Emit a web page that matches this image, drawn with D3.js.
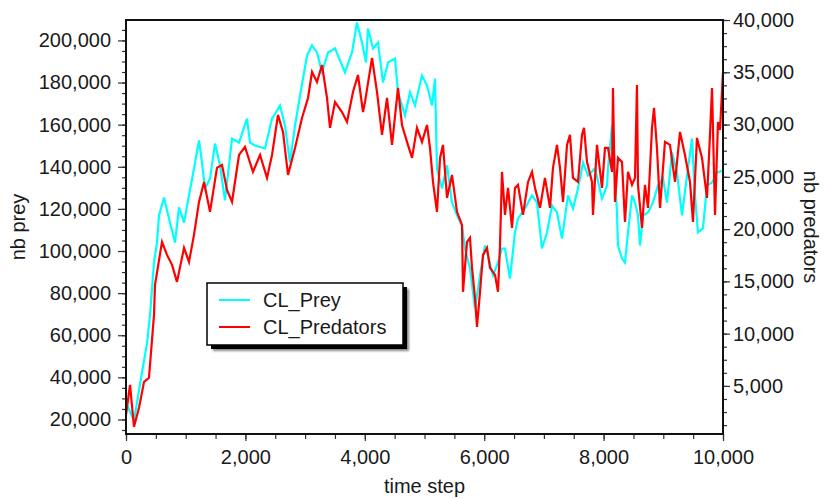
<!DOCTYPE html>
<html>
<head>
<meta charset="utf-8">
<script src="https://cdn.jsdelivr.net/npm/d3@7"></script>
<style>
  body { margin: 0; background: #fff; }
  svg text { font-family: "Liberation Sans", Arial, sans-serif; fill: #1a1a1a; }
</style>
</head>
<body>
<div id="container"></div>
<script>
/* CONSTANTS AND GLOBALS */
const width = 826;
const height = 499;
const plot = { left: 126, right: 723, top: 20, bottom: 434 };

/* DATA */
const preyTime = [0,134,268,352,402,469,519,553,637,720,821,888,972,1055,1139,1223,1273,1323,1407,1491,1575,1658,1776,1893,2027,2077,2161,2328,2446,2580,2663,2747,2831,2915,3032,3116,3199,3283,3384,3501,3668,3786,3869,3953,4020,4054,4137,4221,4305,4389,4506,4556,4673,4757,4841,4958,5042,5126,5176,5209,5293,5377,5461,5544,5628,5678,5762,5846,5930,6013,6064,6147,6231,6298,6348,6432,6516,6566,6683,6801,6884,6968,7052,7136,7219,7303,7404,7487,7571,7655,7739,7856,7973,8057,8074,8141,8224,8241,8308,8358,8409,8476,8526,8576,8610,8660,8744,8827,8911,8995,9062,9146,9229,9313,9397,9481,9531,9581,9665,9732,9816,9899,10000];
const preyValues = [28000,19500,42300,56100,69400,94500,104000,116900,125400,115400,104000,120700,113500,126400,139200,152500,142000,129700,134400,151000,140600,124000,153400,151500,162900,151500,150100,148700,162900,169100,159600,142000,159600,173800,192800,197600,194300,184800,194300,196200,184800,194300,208500,199000,189500,205700,196200,199000,180000,189500,191400,175300,164300,175300,169100,183300,178600,169100,181900,139200,129700,140600,123000,116900,112100,101200,91700,72700,88400,102600,97900,88400,94500,101200,101200,86900,108800,115400,120200,126400,123000,101200,108800,121600,118300,105900,126400,120200,129700,142000,135800,139200,124900,131100,139200,159600,118300,102600,96400,94500,108800,126400,123000,116900,102600,116900,118300,123000,131100,134400,123000,146800,137300,116900,135800,153400,126400,108800,110700,131100,132500,137300,138200];

const predTime = [0,67,134,218,302,385,469,486,603,687,771,854,972,1055,1139,1223,1307,1407,1524,1608,1692,1776,1893,1993,2127,2245,2362,2446,2546,2630,2714,2831,2948,3049,3116,3199,3283,3367,3417,3501,3618,3702,3802,3886,3970,4003,4121,4204,4288,4372,4456,4556,4623,4707,4791,4874,4958,5042,5092,5142,5209,5260,5310,5377,5461,5544,5628,5645,5712,5762,5796,5846,5879,5930,5980,6047,6097,6181,6231,6265,6298,6348,6399,6466,6516,6566,6650,6734,6801,6851,6935,7018,7102,7152,7219,7270,7320,7387,7437,7487,7571,7638,7672,7722,7806,7822,7889,7973,8023,8074,8141,8157,8191,8241,8308,8358,8409,8476,8526,8559,8576,8643,8693,8744,8811,8844,8894,8945,9028,9112,9196,9280,9363,9447,9497,9564,9648,9732,9782,9816,9866,9916,9950,10000];
const predValues = [2240,5100,1090,2910,5390,5780,11800,14670,18780,17530,16580,14950,18200,16860,19450,22600,24510,21650,25850,26140,23750,22600,27090,27860,25470,27090,24900,27090,30920,29290,25180,27760,30630,32540,35030,34070,35700,32540,29680,32160,31200,30250,33120,34740,31200,32160,36370,33120,29010,32540,28050,33500,29960,28340,26810,29680,28340,29960,27760,24510,21650,26810,28050,22980,25180,21650,20400,14000,18780,19160,16290,13420,10650,14000,17530,18200,16290,15620,14000,18490,25470,21360,23940,20120,23940,24230,21360,24510,25470,23940,22030,24900,22030,25850,28050,25850,22600,28050,29010,24900,24510,29010,29680,26420,24510,21360,28050,23940,27760,27760,25470,33500,22600,26810,26420,20690,25470,24230,24900,33790,24230,20120,24230,22030,29680,31590,27760,22030,28340,28050,24510,29290,27090,24510,20690,28720,26810,22980,29010,33500,21360,30250,29490,35030];

const seriesNames = ["CL_Prey", "CL_Predators"];
const seriesColors = ["#00ffff", "#ff0000"];

const xTicks = [0, 2000, 4000, 6000, 8000, 10000];
const leftTicks = [20000, 40000, 60000, 80000, 100000, 120000, 140000, 160000, 180000, 200000];
const rightTicks = [5000, 10000, 15000, 20000, 25000, 30000, 35000, 40000];

/* SCALES */
const xScale = d3.scaleLinear().domain([0, 10000]).range([plot.left, plot.right]);
const yLeft = d3.scaleLinear().domain([13100, 209700]).range([plot.bottom, plot.top]);
const yRight = d3.scaleLinear().domain([400, 40000]).range([plot.bottom, plot.top]);

const svg = d3.select("#container")
  .append("svg")
  .attr("width", width)
  .attr("height", height);

const fmt = d3.format(",");

/* LINES */
const prey = preyTime.map((t, i) => ({ t, v: preyValues[i] }));
const pred = predTime.map((t, i) => ({ t, v: predValues[i] }));

svg.append("path")
  .datum(prey)
  .attr("fill", "none")
  .attr("stroke", seriesColors[0])
  .attr("stroke-width", 2.2)
  .attr("d", d3.line().x(d => xScale(d.t)).y(d => yLeft(d.v)));

svg.append("path")
  .datum(pred)
  .attr("fill", "none")
  .attr("stroke", seriesColors[1])
  .attr("stroke-width", 2.2)
  .attr("d", d3.line().x(d => xScale(d.t)).y(d => yRight(d.v)));

/* AXES */
function styleAxis(g) {
  g.select(".domain").remove();
  g.selectAll("line").attr("stroke", "#333").attr("stroke-width", 1.2);
  g.selectAll("text").style("font-size", "20px").attr("fill", "#1a1a1a");
}

// minor ticks
svg.append("g")
  .attr("transform", `translate(${plot.left},0)`)
  .call(d3.axisLeft(yLeft).tickValues(d3.range(15000, 209000, 5000)).tickSize(4).tickFormat(""))
  .call(styleAxis);
svg.append("g")
  .attr("transform", `translate(${plot.right},0)`)
  .call(d3.axisRight(yRight).tickValues(d3.range(1250, 40001, 1250)).tickSize(4).tickFormat(""))
  .call(styleAxis);
svg.append("g")
  .attr("transform", `translate(0,${plot.bottom})`)
  .call(d3.axisBottom(xScale).tickValues(d3.range(0, 10001, 500)).tickSize(5).tickFormat(""))
  .call(styleAxis);

// major ticks with labels
svg.append("g")
  .attr("transform", `translate(${plot.left},0)`)
  .call(d3.axisLeft(yLeft).tickValues(leftTicks).tickSize(8).tickPadding(7).tickFormat(fmt))
  .call(styleAxis);
svg.append("g")
  .attr("transform", `translate(${plot.right},0)`)
  .call(d3.axisRight(yRight).tickValues(rightTicks).tickSize(7).tickPadding(3).tickFormat(fmt))
  .call(styleAxis);
svg.append("g")
  .attr("transform", `translate(0,${plot.bottom})`)
  .call(d3.axisBottom(xScale).tickValues(xTicks).tickSize(7).tickPadding(9).tickFormat(fmt))
  .call(styleAxis);

// frame
svg.append("rect")
  .attr("x", plot.left)
  .attr("y", plot.top)
  .attr("width", plot.right - plot.left)
  .attr("height", plot.bottom - plot.top)
  .attr("fill", "none")
  .attr("stroke", "#111")
  .attr("stroke-width", 2);

/* AXIS TITLES */
svg.append("text")
  .attr("transform", `translate(${(plot.left + plot.right) / 2},${height - 6})`)
  .attr("text-anchor", "middle")
  .style("font-size", "20px")
  .text("time step");

svg.append("text")
  .attr("transform", `translate(25,${(plot.top + plot.bottom) / 2}) rotate(-90)`)
  .attr("text-anchor", "middle")
  .style("font-size", "20px")
  .text("nb prey");

svg.append("text")
  .attr("transform", `translate(804,${(plot.top + plot.bottom) / 2}) rotate(90)`)
  .attr("text-anchor", "middle")
  .style("font-size", "20px")
  .text("nb predators");

/* LEGEND */
const legend = svg.append("g").attr("transform", "translate(207,283)");
const defs = svg.append("defs");
defs.append("filter").attr("id", "blur").append("feGaussianBlur").attr("stdDeviation", 1.2);

legend.append("rect")
  .attr("x", 6).attr("y", 6).attr("width", 196).attr("height", 62)
  .attr("fill", "#888").attr("filter", "url(#blur)");
legend.append("rect")
  .attr("x", 4).attr("y", 4).attr("width", 196).attr("height", 62)
  .attr("fill", "#000");
legend.append("rect")
  .attr("x", 0).attr("y", 0).attr("width", 196).attr("height", 62)
  .attr("fill", "#fff").attr("stroke", "#000").attr("stroke-width", 1.5);

seriesNames.forEach((name, i) => {
  const yy = 17 + i * 27;
  legend.append("line")
    .attr("x1", 12).attr("x2", 43).attr("y1", yy).attr("y2", yy)
    .attr("stroke", seriesColors[i]).attr("stroke-width", 2);
  legend.append("text")
    .attr("x", 56).attr("y", yy + 7)
    .style("font-size", "20px")
    .text(name);
});
</script>
</body>
</html>
